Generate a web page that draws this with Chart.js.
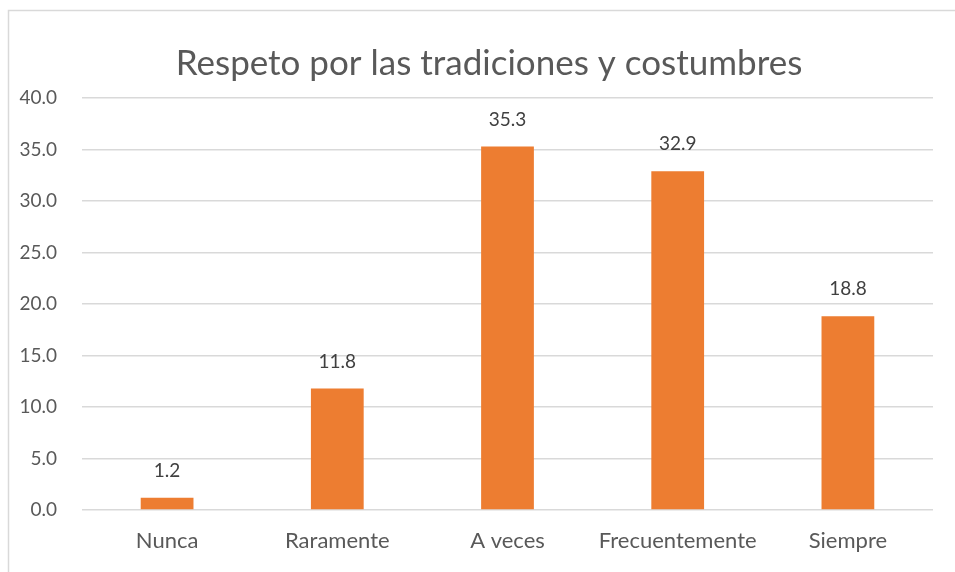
<!DOCTYPE html>
<html>
<head>
<meta charset="utf-8">
<script src="https://cdn.jsdelivr.net/npm/chart.js@4"></script>
<style>
  html, body { margin: 0; padding: 0; background: #fff; }
  #wrap { width: 955px; height: 572px; position: relative; }
</style>
</head>
<body>
<div id="wrap"><canvas id="chart"></canvas></div>
<script>
const categories = ["Nunca", "Raramente", "A veces", "Frecuentemente", "Siempre"];
const values = [1.2, 11.8, 35.3, 32.9, 18.8];
const yTicks = [0, 5, 10, 15, 20, 25, 30, 35, 40];
const chartTitle = "Respeto por las tradiciones y costumbres";

const FONT = "Lato, 'Open Sans', sans-serif";

// frame + title, drawn like the spreadsheet chart box
const framePlugin = {
  id: "frame",
  beforeDraw(chart) {
    const ctx = chart.ctx;
    ctx.save();
    ctx.strokeStyle = "#d9d9d9";
    ctx.lineWidth = 1.5;
    ctx.strokeRect(8.5, 10.5, chart.width + 10, chart.height + 10);
    ctx.font = "35px " + FONT;
    ctx.fillStyle = "#595959";
    ctx.textAlign = "center";
    ctx.textBaseline = "alphabetic";
    ctx.fillText(chartTitle, 489, 75);
    ctx.restore();
  }
};

// value labels above each bar
const labelsPlugin = {
  id: "barLabels",
  afterDatasetsDraw(chart) {
    const ctx = chart.ctx;
    const meta = chart.getDatasetMeta(0);
    ctx.save();
    ctx.font = "19px " + FONT;
    ctx.fillStyle = "#404040";
    ctx.textAlign = "center";
    ctx.textBaseline = "middle";
    meta.data.forEach((bar, i) => {
      ctx.fillText(values[i].toFixed(1), bar.x, bar.y - 27);
    });
    ctx.restore();
  }
};

new Chart(document.getElementById("chart"), {
  type: "bar",
  data: {
    labels: categories,
    datasets: [{
      label: "Respeto",
      data: values,
      backgroundColor: "#ED7D31",
      barPercentage: 1,
      categoryPercentage: 0.31
    }]
  },
  options: {
    responsive: true,
    maintainAspectRatio: false,
    animation: false,
    layout: { padding: { top: 98, right: 22, left: 0, bottom: 0 } },
    plugins: {
      legend: { display: false },
      tooltip: { enabled: false },
      title: { display: false }
    },
    scales: {
      x: {
        grid: { display: false, drawTicks: false },
        border: { display: false },
        ticks: { color: "#595959", font: { family: FONT, size: 22 }, padding: 18 },
        afterFit(s) { s.height = 62; }
      },
      y: {
        min: 0,
        max: 40,
        afterBuildTicks(s) { s.ticks = yTicks.map(v => ({ value: v })); },
        grid: { color: "#d9d9d9", lineWidth: 1.5, drawTicks: false },
        border: { display: false },
        ticks: {
          color: "#595959",
          font: { family: FONT, size: 19 },
          padding: 25,
          callback: v => v.toFixed(1)
        },
        afterFit(s) { s.width = 82; }
      }
    }
  },
  plugins: [framePlugin, labelsPlugin]
});
</script>
</body>
</html>
